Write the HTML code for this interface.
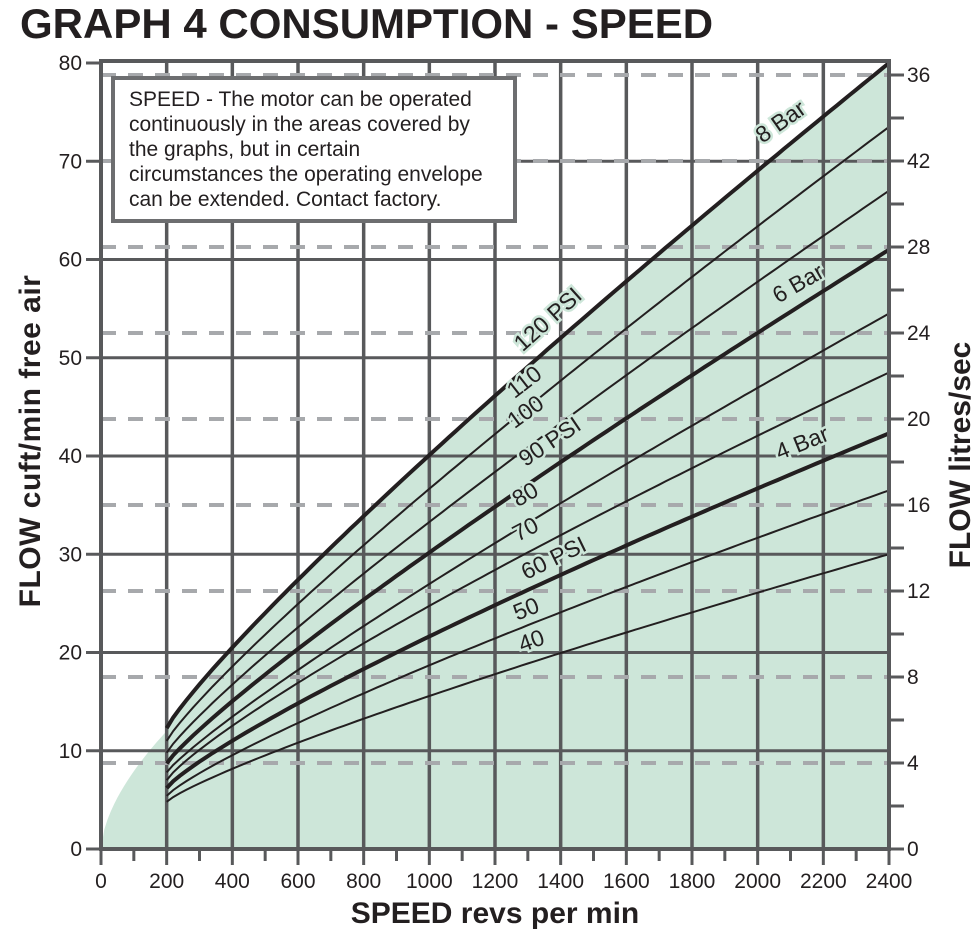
<!DOCTYPE html>
<html><head><meta charset="utf-8"><style>
body{margin:0;background:#fff;width:980px;height:933px;overflow:hidden}
svg text{font-family:"Liberation Sans",sans-serif;fill:#231f20}
</style></head><body>
<svg id="s" width="980" height="933" xmlns="http://www.w3.org/2000/svg">
<text x="20" y="38" font-size="42" font-weight="bold">GRAPH 4 CONSUMPTION - SPEED</text>
<g id="g"></g>
<rect x="113" y="78" width="402" height="143" fill="#fff" stroke="#6d6e70" stroke-width="4"/>
<text font-size="21" fill="#231f20">
<tspan x="129" y="106">SPEED - The motor can be operated</tspan>
<tspan x="129" y="131">continuously in the areas covered by</tspan>
<tspan x="129" y="156">the graphs, but in certain</tspan>
<tspan x="129" y="181">circumstances the operating envelope</tspan>
<tspan x="129" y="206">can be extended. Contact factory.</tspan>
</text>
<text x="495" y="923" font-size="30" font-weight="bold" text-anchor="middle">SPEED revs per min</text>
<text transform="translate(40,441) rotate(-90)" font-size="30" font-weight="bold" text-anchor="middle" letter-spacing="0.5">FLOW cuft/min free air</text>
<text transform="translate(970,455) rotate(-90)" font-size="30" font-weight="bold" text-anchor="middle">FLOW litres/sec</text>
</svg>
<script>
var g=document.getElementById('g'),h='';
function X(r){return 101+r*788/2400}
function Y(v){return 849-v*786/80}
var G='#cde6d9',D='#58595b';
var p='M101,849 ';
for(var r=0;r<=200;r+=10){p+='L'+X(r)+','+Y(12*Math.pow(r/200,0.6))+' ';}
var st={40:4.8,50:5.4,60:6.2,70:7.0,80:7.8,90:8.7,100:9.8,110:11,120:12.3};
var en={40:30,50:36.5,60:42.3,70:48.5,80:54.5,90:61,100:67,110:73.5,120:80};
function f(P,r){var t=(r-200)/2200;var e=P<80?0.84:0.88;return st[P]+(en[P]-st[P])*Math.pow(t,e);}
for(var r=200;r<=2400;r+=20){p+='L'+X(r)+','+Y(f(120,r))+' ';}
p+='L'+X(2400)+','+Y(81)+' L889,849 Z';
h+='<path d="'+p+'" fill="'+G+'"/>';
for(var v=10;v<=70;v+=10)h+='<line x1="101" x2="889" y1="'+Y(v)+'" y2="'+Y(v)+'" stroke="'+D+'" stroke-width="3"/>';
for(var r=200;r<2400;r+=200)h+='<line y1="61" y2="849" x1="'+X(r)+'" x2="'+X(r)+'" stroke="'+D+'" stroke-width="3.5"/>';
function YL(l){return 849-l*21.5}
for(var l=4;l<=36;l+=4){var y=YL(l);h+='<line x1="101" x2="889" y1="'+y+'" y2="'+y+'" stroke="#a7a9ac" stroke-width="4" stroke-dasharray="15,12"/>';}
[40,50,60,70,80,90,100,110,120].forEach(function(P){var d='';for(var r=200;r<=2400;r+=20)d+=(r==200?'M':'L')+X(r).toFixed(1)+','+Y(f(P,r)).toFixed(1)+' ';
var w=(P==60||P==90||P==120)?4:2;h+='<path d="'+d+'" fill="none" stroke="#231f20" stroke-width="'+w+'"/>';});
h+='<rect x="101" y="61" width="788" height="788" fill="none" stroke="'+D+'" stroke-width="4"/>';
for(var v=0;v<=80;v+=10){h+='<line x1="86" x2="101" y1="'+Y(v)+'" y2="'+Y(v)+'" stroke="'+D+'" stroke-width="3"/><text x="82" y="'+(Y(v)+7)+'" font-size="21" text-anchor="end">'+v+'</text>';}
for(var r=0;r<=2400;r+=100){var big=r%200==0;h+='<line y1="849" y2="'+(big?865:861)+'" x1="'+X(r)+'" x2="'+X(r)+'" stroke="'+D+'" stroke-width="3"/>';if(big)h+='<text x="'+X(r)+'" y="888" font-size="21" text-anchor="middle">'+r+'</text>';}
var rl={0:'0',4:'4',8:'8',12:'12',16:'16',20:'20',24:'24',28:'28',32:'42',36:'36'};
for(var l=0;l<=36;l+=2){var y=YL(l);h+='<line x1="889" x2="904" y1="'+y+'" y2="'+y+'" stroke="'+D+'" stroke-width="3"/>';if(l%4==0)h+='<text x="907" y="'+(y+7)+'" font-size="21">'+rl[l]+'</text>';}
function L(t,x,y,a){h+='<text transform="translate('+x+','+y+') rotate('+a+')" font-size="23" text-anchor="middle" stroke="'+G+'" stroke-width="5" paint-order="stroke" style="fill:#231f20">'+t+'</text>';}
L('8 Bar',785,128,-35);L('6 Bar',802,290,-30);L('4 Bar',805,450,-22);
L('120 PSI',553,325,-42);L('110',529,388,-38);L('100',530,418,-36);L('90 PSI',554,448,-34);
L('80',529,501,-30);L('70',529,536,-28);L('60 PSI',557,565,-26);L('50',529,616,-22);L('40',534,648,-20);
g.innerHTML=h;
</script>
</body></html>
